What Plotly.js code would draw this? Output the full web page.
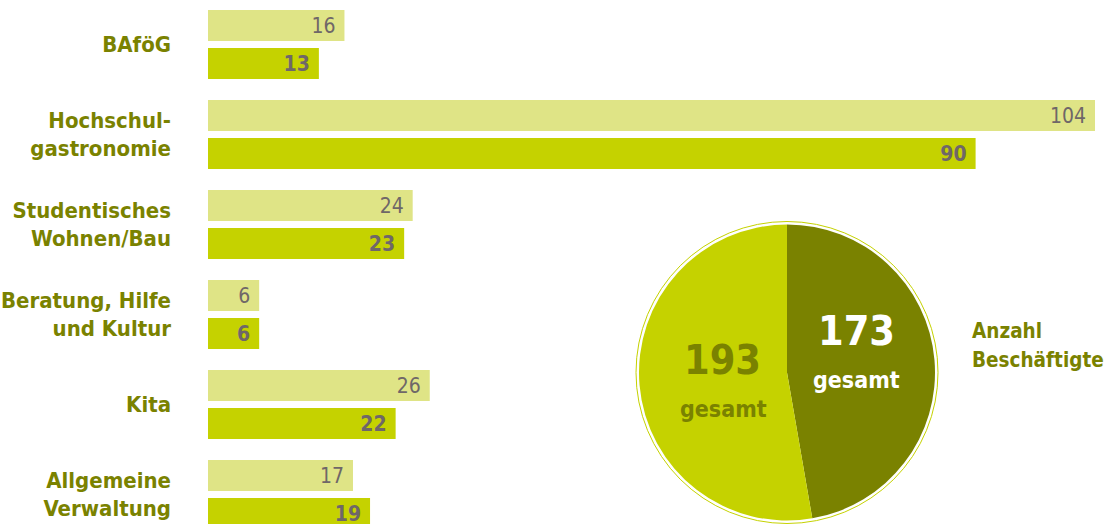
<!DOCTYPE html>
<html>
<head>
<meta charset="utf-8">
<script src="https://cdn.plot.ly/plotly-3.0.1.min.js"></script>
<style>html,body{margin:0;padding:0;background:#fff;}#chart{width:1111px;height:524px;}</style>
</head>
<body>
<div id="chart"></div>
<script>
const categories = ["BAföG", "Hochschul-<br>gastronomie", "Studentisches<br>Wohnen/Bau", "Beratung, Hilfe<br>und Kultur", "Kita", "Allgemeine<br>Verwaltung"];
const valuesLight = [16, 104, 24, 6, 26, 17];
const valuesDark = [13, 90, 23, 6, 22, 19];
const pieLabels = ["dunkel", "hell"];
const totalLight = valuesLight.reduce((a, b) => a + b, 0);
const totalDark = valuesDark.reduce((a, b) => a + b, 0);
const pieValues = [totalDark, totalLight];

const FONT = "'DejaVu Sans Condensed', 'DejaVu Sans', sans-serif";
const OLIVE = "#7a8200";
const LIME = "#c5d200";
const PALE = "#dfe486";
const GREY = "#6f6768";

const W = 1111, H = 524, ML = 208;
const PW = W - ML;
const px2x = p => (p - ML) / PW;
const py2y = p => 1 - p / H;

const data = [
  {
    type: "bar", orientation: "h", y: categories, x: valuesLight,
    marker: {color: PALE}, texttemplate: "%{x}\u00a0", textposition: "inside",
    insidetextanchor: "end", constraintext: "none", textangle: 0,
    textfont: {family: FONT, size: 21, color: GREY}, hoverinfo: "skip"
  },
  {
    type: "bar", orientation: "h", y: categories, x: valuesDark,
    marker: {color: LIME}, texttemplate: "<b>%{x}</b>\u00a0", textposition: "inside",
    insidetextanchor: "end", constraintext: "none", textangle: 0,
    textfont: {family: FONT, size: 21, color: GREY}, hoverinfo: "skip"
  },
  {
    type: "pie", labels: pieLabels, values: pieValues, sort: false,
    direction: "clockwise", rotation: 0,
    marker: {colors: [OLIVE, LIME], line: {width: 0}},
    textinfo: "none", hoverinfo: "skip", showlegend: false,
    domain: {x: [px2x(639), px2x(935)], y: [py2y(520.5), py2y(224.5)]}
  }
];

const layout = {
  width: W, height: H,
  margin: {l: ML, r: 0, t: 0, b: 0},
  paper_bgcolor: "#fff", plot_bgcolor: "#fff",
  showlegend: false,
  barmode: "group", bargap: 0.1556, bargroupgap: 0.184,
  hovermode: false,
  xaxis: {range: [0, PW / (887 / 104)], visible: false, fixedrange: true},
  yaxis: {
    type: "category", categoryarray: categories,
    range: [(H - 44.5) / 90, -44.5 / 90],
    showgrid: false, zeroline: false, showline: false, ticks: "",
    ticklabelstandoff: 36, fixedrange: true,
    tickfont: {family: FONT, size: 22, color: OLIVE, weight: "bold"}
  },
  shapes: [{
    type: "circle", xref: "paper", yref: "paper",
    x0: px2x(636), x1: px2x(938), y0: py2y(523.5), y1: py2y(221.5),
    line: {color: LIME, width: 1}, fillcolor: "rgba(0,0,0,0)"
  }],
  annotations: [
    {xref: "paper", yref: "paper", x: px2x(722), y: py2y(360), text: "<b>" + totalLight + "</b>", showarrow: false,
     xanchor: "center", yanchor: "middle", font: {family: FONT, size: 41, color: OLIVE}},
    {xref: "paper", yref: "paper", x: px2x(723), y: py2y(409), text: "<b>gesamt</b>", showarrow: false,
     xanchor: "center", yanchor: "middle", font: {family: FONT, size: 23, color: OLIVE}},
    {xref: "paper", yref: "paper", x: px2x(856), y: py2y(331), text: "<b>" + totalDark + "</b>", showarrow: false,
     xanchor: "center", yanchor: "middle", font: {family: FONT, size: 41, color: "#ffffff"}},
    {xref: "paper", yref: "paper", x: px2x(856), y: py2y(380), text: "<b>gesamt</b>", showarrow: false,
     xanchor: "center", yanchor: "middle", font: {family: FONT, size: 23, color: "#ffffff"}},
    {xref: "paper", yref: "paper", x: px2x(970), y: py2y(331), text: "<b>Anzahl</b>", showarrow: false,
     xanchor: "left", yanchor: "middle", font: {family: FONT, size: 20.5, color: OLIVE}},
    {xref: "paper", yref: "paper", x: px2x(970), y: py2y(360), text: "<b>Beschäftigte</b>", showarrow: false,
     xanchor: "left", yanchor: "middle", font: {family: FONT, size: 20.5, color: OLIVE}}
  ]
};

Plotly.newPlot("chart", data, layout, {displayModeBar: false, staticPlot: true});
</script>
</body>
</html>
